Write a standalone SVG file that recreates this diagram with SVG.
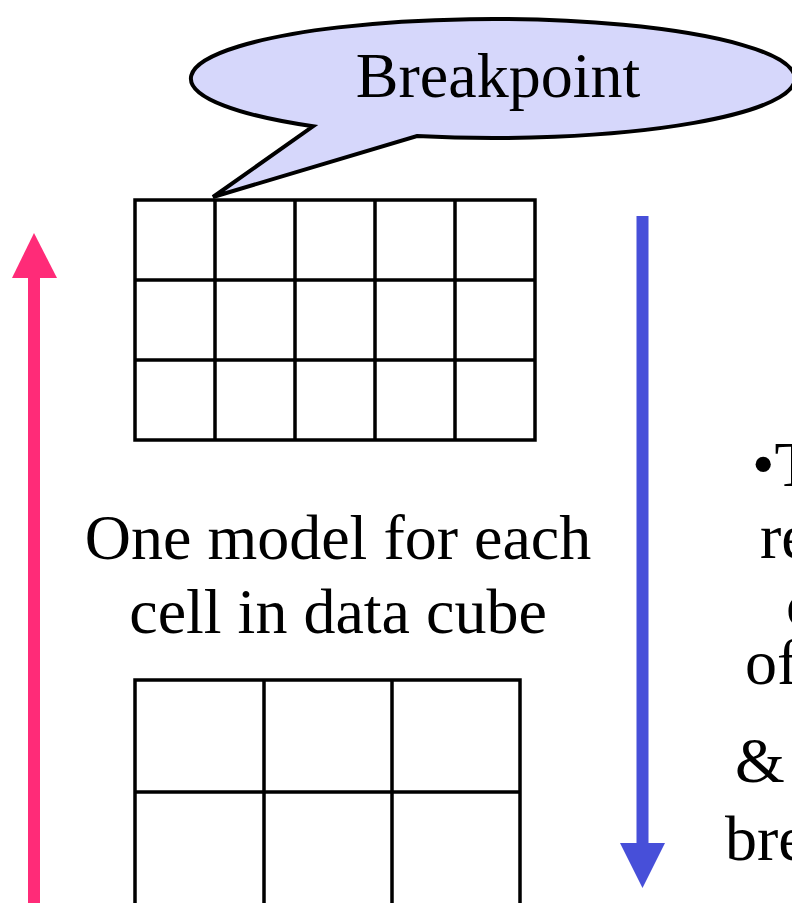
<svg xmlns="http://www.w3.org/2000/svg" width="792" height="903" viewBox="0 0 792 903">
<style>
.t{font-family:"Liberation Serif","Times New Roman",serif;font-size:64px;fill:#000}
.g{fill:none;stroke:#000;stroke-width:3.5}
</style>
<rect width="792" height="903" fill="#fff"/>
<g id="callout">
<path d="M213,197 L313,126.3 A302,59.5 0 1 1 417,136.1 Z" fill="#D6D7FB" stroke="#000" stroke-width="4" stroke-linejoin="miter"/>
<text class="t" x="498" y="97" text-anchor="middle">Breakpoint</text>
</g>
<g id="grid-top">
<rect class="g" x="135" y="200" width="400" height="240"/>
<path class="g" d="M215,200V440M295,200V440M375,200V440M455,200V440M135,280H535M135,360H535"/>
</g>
<g id="label">
<text class="t" x="338" y="559" text-anchor="middle">One model for each</text>
<text class="t" x="338" y="633" text-anchor="middle">cell in data cube</text>
</g>
<g id="grid-bottom">
<rect class="g" x="135" y="680" width="385" height="230"/>
<path class="g" d="M264,680V910M392,680V910M135,792H520"/>
</g>
<g id="connectors">
<rect x="28" y="276" width="12" height="630" fill="#FF2B78"/>
<polygon points="34,233 57,278 12,278" fill="#FF2B78"/>
<rect x="636.5" y="216" width="12" height="629" fill="#474FD9"/>
<polygon points="620,843 665,843 642.5,888" fill="#474FD9"/>
</g>
<g id="side-text">
<text class="t" x="752" y="486">•T</text>
<text class="t" x="760" y="558">re</text>
<text class="t" x="786" y="626">c</text>
<text class="t" x="745" y="684">of</text>
<text class="t" x="735" y="782">&amp;</text>
<text class="t" x="725" y="860">bre</text>
</g>
</svg>
